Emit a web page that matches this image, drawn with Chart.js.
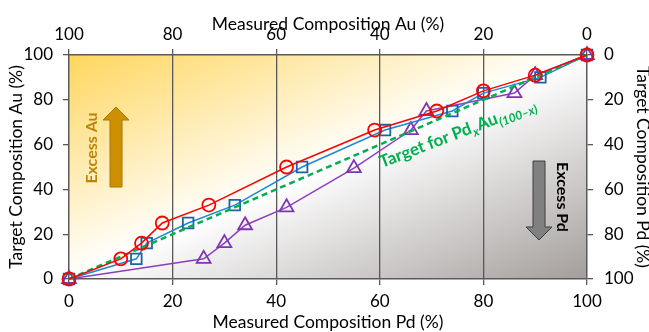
<!DOCTYPE html>
<html><head><meta charset="utf-8">
<script src="https://cdn.jsdelivr.net/npm/chart.js@4"></script>
<style>html,body{margin:0;padding:0;background:#fff}#wrap{width:649px;height:332px}</style>
</head><body><div id="wrap"><canvas id="c" width="649" height="332"></canvas></div>
<script>
// Data
const redX = [0, 10, 14, 18, 27, 42, 59, 71, 80, 90, 100];
const redY = [0, 9, 16, 25, 33, 50, 66.5, 75, 84, 91, 100];
const blueX = [0, 13, 15, 23, 32, 45, 61, 74, 80, 91, 100];
const blueY = [0, 9, 16, 25, 33, 50, 66.5, 75, 83, 90, 100];
const purpleX = [0, 26, 30, 34, 42, 55, 66, 69, 86, 90, 100];
const purpleY = [0, 9, 16, 24, 32, 49.5, 66.5, 75, 83, 91, 100];
const targetX = [0, 100];
const targetY = [0, 100];
const tickValues = [0, 20, 40, 60, 80, 100];

const pts = (xs, ys) => xs.map((x, i) => ({x, y: ys[i]}));
const FONT = 'Lato';

const bgPlugin = {
  id: 'bg',
  beforeDraw(chart) {
    const {ctx, chartArea: a} = chart;
    const cx = (a.left + a.right) / 2, cy = (a.top + a.bottom) / 2;
    const w = a.right - a.left, h = a.bottom - a.top;
    const len = Math.hypot(w, h);
    const ux = h / len, uy = w / len;
    const proj = Math.abs(-w / 2 * ux - h / 2 * uy);
    const g = ctx.createLinearGradient(cx - proj * ux, cy - proj * uy, cx + proj * ux, cy + proj * uy);
    g.addColorStop(0, '#FFD65E');
    g.addColorStop(0.5, '#FFFFFF');
    g.addColorStop(1, '#A39E9C');
    ctx.save();
    ctx.fillStyle = g;
    ctx.fillRect(a.left, a.top, w, h);
    ctx.restore();
  },
  beforeDatasetsDraw(chart) {
    const {ctx} = chart;
    ctx.save();
    // Excess Au arrow (up)
    ctx.fillStyle = '#CC9000';
    ctx.strokeStyle = '#A87700';
    ctx.lineWidth = 1;
    ctx.beginPath();
    ctx.moveTo(110, 187); ctx.lineTo(110, 120); ctx.lineTo(103, 120); ctx.lineTo(116, 107);
    ctx.lineTo(129, 120); ctx.lineTo(122, 120); ctx.lineTo(122, 187); ctx.closePath();
    ctx.fill(); ctx.stroke();
    ctx.translate(92, 148); ctx.rotate(-Math.PI / 2);
    ctx.fillStyle = '#B8860B';
    ctx.font = 'bold 16px ' + FONT;
    ctx.textAlign = 'center'; ctx.textBaseline = 'middle';
    ctx.fillText('Excess Au', 0, 0);
    ctx.restore();
    ctx.save();
    // Excess Pd arrow (down)
    ctx.fillStyle = '#808080';
    ctx.strokeStyle = '#3F3F3F';
    ctx.lineWidth = 1;
    ctx.beginPath();
    ctx.moveTo(533, 161); ctx.lineTo(545, 161); ctx.lineTo(545, 227); ctx.lineTo(552, 227);
    ctx.lineTo(539, 240); ctx.lineTo(526, 227); ctx.lineTo(533, 227); ctx.closePath();
    ctx.fill(); ctx.stroke();
    ctx.translate(562, 197); ctx.rotate(Math.PI / 2);
    ctx.fillStyle = '#000';
    ctx.font = 'bold 16px ' + FONT;
    ctx.textAlign = 'center'; ctx.textBaseline = 'middle';
    ctx.fillText('Excess Pd', 0, 0);
    ctx.restore();
  },
  afterDatasetsDraw(chart) {
    const {ctx} = chart;
    ctx.save();
    ctx.translate(382, 168);
    ctx.rotate(-21 * Math.PI / 180);
    ctx.fillStyle = '#00B050';
    ctx.textBaseline = 'alphabetic';
    ctx.textAlign = 'left';
    let x = 0;
    ctx.font = 'bold 17px ' + FONT;
    ctx.fillText('Target for Pd', x, 0); x += ctx.measureText('Target for Pd').width + 0.5;
    ctx.font = 'italic bold 12px ' + FONT;
    ctx.fillText('x', x, 4); x += ctx.measureText('x').width + 0.5;
    ctx.font = 'bold 17px ' + FONT;
    ctx.fillText('Au', x, 0); x += ctx.measureText('Au').width + 0.5;
    ctx.font = 'italic bold 12px ' + FONT;
    ctx.fillText('(100\u2013x)', x, 4);
    ctx.restore();
  }
};

const axisColor = '#595959';
const tickFont = {family: FONT, size: 17};
const titleFont = {family: FONT, size: 17.5};

new Chart(document.getElementById('c'), {
  type: 'scatter',
  data: {
    datasets: [
      {label: 'red', data: pts(redX, redY), showLine: true, borderColor: '#FF0000', backgroundColor: 'rgba(0,0,0,0)',
        borderWidth: 1.5, pointStyle: 'circle', pointRadius: 6.5, pointBorderWidth: 1.8, order: 1, clip: false},
      {label: 'target', data: pts(targetX, targetY), showLine: true, borderColor: '#00B050', borderWidth: 2.5,
        borderDash: [6, 4], pointRadius: 0, order: 2, clip: false},
      {label: 'blue', data: pts(blueX, blueY), showLine: true, borderColor: '#1E88D2', pointBorderColor: '#1F62A8',
        backgroundColor: 'rgba(0,0,0,0)', borderWidth: 1.5, pointStyle: 'rect', pointRadius: 7.5, pointBorderWidth: 1.8, order: 3, clip: false},
      {label: 'purple', data: pts(purpleX, purpleY), showLine: true, borderColor: '#8E3FC0', pointBorderColor: '#7F35B2',
        backgroundColor: 'rgba(0,0,0,0)', borderWidth: 1.5, pointStyle: 'triangle', pointRadius: 8, pointBorderWidth: 1.8, order: 4, clip: false}
    ]
  },
  options: {
    responsive: false,
    animation: false,
    layout: {padding: 0},
    plugins: {legend: {display: false}, tooltip: {enabled: false}},
    scales: {
      x: {
        type: 'linear', position: 'bottom', min: 0, max: 100,
        afterFit: s => { s.height = 53; },
        afterBuildTicks: s => { s.ticks = tickValues.map(v => ({value: v})); },
        ticks: {font: tickFont, color: '#000', padding: 6, maxRotation: 0},
        grid: {color: c => (c.tick && (c.tick.value === 0 || c.tick.value === 100)) ? 'rgba(0,0,0,0)' : axisColor,
          tickColor: axisColor, tickLength: 6, lineWidth: 1.3},
        border: {display: true, color: axisColor, width: 1.5},
        title: {display: true, text: 'Measured Composition Pd (%)', font: titleFont, color: '#000', padding: {top: 0, bottom: -1}}
      },
      x2: {
        type: 'linear', position: 'top', min: 0, max: 100, reverse: true, display: true,
        afterFit: s => { s.height = 55; },
        afterBuildTicks: s => { s.ticks = tickValues.map(v => ({value: v})); },
        ticks: {font: tickFont, color: '#000', padding: 4, maxRotation: 0},
        grid: {drawOnChartArea: false, tickColor: axisColor, tickLength: 6, lineWidth: 1.3},
        border: {display: true, color: axisColor, width: 1.5},
        title: {display: true, text: 'Measured Composition Au (%)', font: titleFont, color: '#000', padding: {top: 14, bottom: 0}}
      },
      y: {
        type: 'linear', position: 'left', min: 0, max: 100,
        afterFit: s => { s.width = 69; },
        afterBuildTicks: s => { s.ticks = tickValues.map(v => ({value: v})); },
        ticks: {font: tickFont, color: '#000', padding: 10},
        grid: {drawOnChartArea: false, tickColor: axisColor, tickLength: 6, lineWidth: 1.3},
        border: {display: true, color: axisColor, width: 1.5},
        title: {display: true, text: 'Target Composition Au (%)', font: titleFont, color: '#000', padding: {top: 6, bottom: 0}}
      },
      y2: {
        type: 'linear', position: 'right', min: 0, max: 100, reverse: true, display: true,
        afterFit: s => { s.width = 62; },
        afterBuildTicks: s => { s.ticks = tickValues.map(v => ({value: v})); },
        ticks: {font: tickFont, color: '#000', padding: 11},
        grid: {drawOnChartArea: false, tickColor: axisColor, tickLength: 6, lineWidth: 1.3},
        border: {display: true, color: axisColor, width: 1.5},
        title: {display: true, text: 'Target Composition Pd (%)', font: titleFont, color: '#000', padding: {top: -4, bottom: 0}}
      }
    }
  },
  plugins: [bgPlugin]
});
</script>
</body></html>
